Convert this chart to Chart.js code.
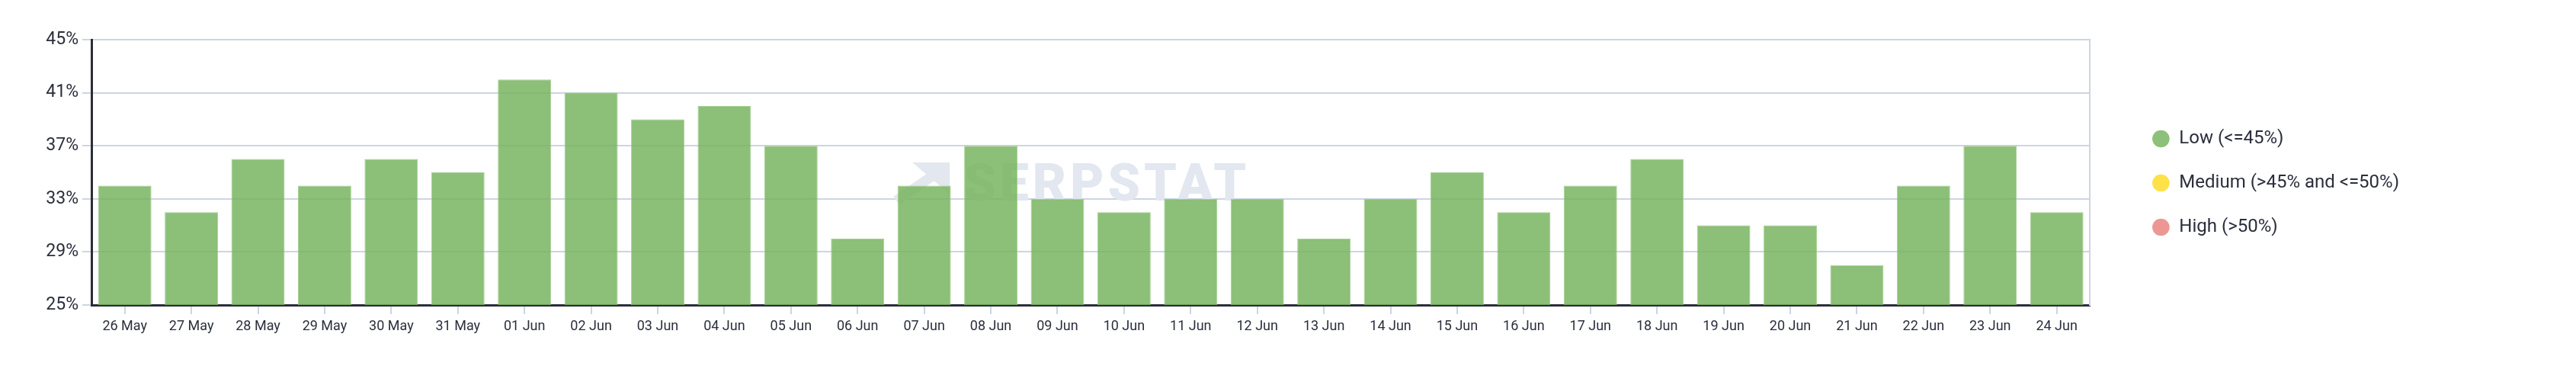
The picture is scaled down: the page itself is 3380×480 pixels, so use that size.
<!DOCTYPE html>
<html>
<head>
<meta charset="utf-8">
<script src="https://cdn.jsdelivr.net/npm/chart.js@4.4.0/dist/chart.umd.min.js"></script>
<style>
    html, body { margin: 0; background: #fff; }
</style>
</head>
<body>
<canvas id="chartCompetition" width="3380" height="480"></canvas>
<script>
var days = ['26 May', '27 May', '28 May', '29 May', '30 May', '31 May', '01 Jun', '02 Jun', '03 Jun', '04 Jun',
    '05 Jun', '06 Jun', '07 Jun', '08 Jun', '09 Jun', '10 Jun', '11 Jun', '12 Jun', '13 Jun', '14 Jun',
    '15 Jun', '16 Jun', '17 Jun', '18 Jun', '19 Jun', '20 Jun', '21 Jun', '22 Jun', '23 Jun', '24 Jun'];
var competition = [34, 32, 36, 34, 36, 35, 42, 41, 39, 40, 37, 30, 34, 37, 33,
    32, 33, 33, 30, 33, 35, 32, 34, 36, 31, 31, 28, 34, 37, 32];
var yTicks = [25, 29, 33, 37, 41, 45];
var levelNames = ['Low (<=45%)', 'Medium (>45% and <=50%)', 'High (>50%)'];
var levelColors = ['#8dc07a', '#ffe14a', '#ec9794'];

var textColor = '#2b2e3c';
var lineLight = '#cdd5e1';
var lineDark = '#2b2d3a';

// serpstat watermark behind the bars
var watermark = {
    id: 'watermark',
    beforeDatasetsDraw: function(chart) {
        var ctx = chart.ctx;
        var a = chart.chartArea;
        var x = (a.left + a.right) / 2 - 167;
        var base = (a.top + a.bottom) / 2 + 37;
        ctx.save();
        ctx.fillStyle = '#e2e7f0';
        ctx.font = '900 68px Roboto';
        ctx.letterSpacing = '5px';
        ctx.textBaseline = 'alphabetic';
        ctx.fillText('SERPSTAT', x, base);
        // logo
        ctx.beginPath();
        ctx.moveTo(x - 67, base - 50);
        ctx.lineTo(x - 18, base - 50);
        ctx.lineTo(x - 18, base - 8);
        ctx.closePath();
        ctx.fill();
        ctx.lineWidth = 13;
        ctx.strokeStyle = '#e2e7f0';
        ctx.beginPath();
        ctx.moveTo(x - 88, base);
        ctx.lineTo(x - 38, base - 34);
        ctx.stroke();
        ctx.restore();
    }
};

var ctx = document.getElementById('chartCompetition');
var myChart = new Chart(ctx, {
    type: 'bar',
    data: {
        labels: days,
        datasets: [{
            label: 'Competition',
            data: competition,
            backgroundColor: 'rgba(120,180,95,0.85)',
            borderColor: 'rgba(160,205,140,0.9)',
            borderWidth: 1,
            categoryPercentage: 0.8,
            barPercentage: 1
        }]
    },
    options: {
        responsive: false,
        animation: false,
        layout: { padding: { left: 0, right: 222, top: 0, bottom: 0 } },
        scales: {
            x: {
                grid: { drawOnChartArea: false, offset: false, color: lineLight, lineWidth: 2, tickLength: 12 },
                border: { color: lineDark, width: 3 },
                ticks: { color: textColor, font: { family: 'Roboto', size: 18 }, padding: 6, maxRotation: 0, autoSkip: false },
                afterFit: function(s) { s.height = 80; }
            },
            y: {
                min: 25,
                max: 45,
                afterBuildTicks: function(axis) {
                    axis.ticks = yTicks.map(function(v) { return { value: v }; });
                },
                grid: { color: lineLight, lineWidth: 2, tickLength: 12 },
                border: { color: lineDark, width: 3 },
                ticks: {
                    color: textColor,
                    font: { family: 'Roboto', size: 23 },
                    padding: 5,
                    callback: function(v) { return v + '%'; }
                },
                afterFit: function(s) { s.width = 120; }
            },
            y2: {
                position: 'right',
                grid: { display: false, drawTicks: false },
                border: { color: lineLight, width: 2 },
                ticks: { display: false },
                afterFit: function(s) { s.width = 47; }
            }
        },
        plugins: {
            title: { display: true, text: ' ', font: { size: 10 }, padding: { top: 40, bottom: 0 } },
            tooltip: { enabled: false },
            legend: {
                position: 'right',
                align: 'center',
                labels: {
                    usePointStyle: true,
                    boxWidth: 24,
                    boxHeight: 16,
                    padding: 34,
                    color: textColor,
                    font: { family: 'Roboto', size: 24 },
                    generateLabels: function() {
                        return levelNames.map(function(name, i) {
                            return {
                                text: name,
                                fillStyle: levelColors[i],
                                strokeStyle: levelColors[i],
                                lineWidth: 0,
                                pointStyle: 'circle',
                                hidden: false,
                                datasetIndex: 0,
                                fontColor: textColor
                            };
                        });
                    }
                }
            }
        }
    },
    plugins: [watermark]
});
</script>
</body>
</html>
